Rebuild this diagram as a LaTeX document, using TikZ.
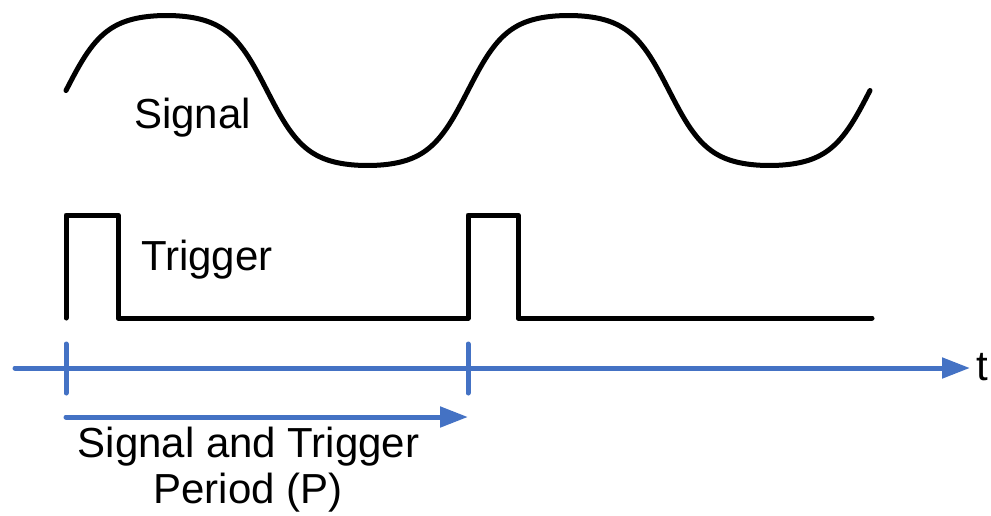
\documentclass[tikz,border=0pt]{standalone}
\usepackage{fontspec}
\setmainfont{Liberation Sans}
\usetikzlibrary{arrows.meta}
\definecolor{axisblue}{HTML}{4472C4}
\begin{document}
\begin{tikzpicture}[x=1pt,y=-1pt,
  wave/.style={line width=5pt,black,line cap=round,line join=round},
  axisline/.style={line width=5pt,axisblue,line cap=round},
  axisarrow/.style={axisline,-{Triangle[length=28pt,width=20pt]}},
  lbl/.style={font=\fontsize{42}{46}\selectfont,inner sep=0pt}]
\useasboundingbox (0,0) rectangle (991,515);
% signal
\draw[wave] plot[domain=0:720,samples=300]
  ({66+\x*1.116667},{90.5-75*tanh(1.5*sin(\x))/0.905148});
% trigger
\coordinate (t0) at (66,318);
\coordinate (t1) at (66,215);
\coordinate (t2) at (118,215);
\coordinate (t3) at (118,318);
\coordinate (t4) at (468,318);
\coordinate (t5) at (468,215);
\coordinate (t6) at (518,215);
\coordinate (t7) at (518,318);
\coordinate (t8) at (872,318);
\draw[wave] (t0)--(t1)--(t2)--(t3)--(t4)--(t5)--(t6)--(t7)--(t8);
% axis
\coordinate (a0) at (15,368);
\coordinate (a1) at (970,368);
\draw[axisarrow] (a0) -- (a1);
\coordinate (k0) at (66,344);
\coordinate (k1) at (66,393);
\coordinate (k2) at (468,344);
\coordinate (k3) at (468,393);
\draw[axisline] (k0) -- (k1);
\draw[axisline] (k2) -- (k3);
% period arrow
\coordinate (p0) at (66,417);
\coordinate (p1) at (468,417);
\draw[axisarrow] (p0) -- (p1);
% labels
\node[lbl,anchor=base west] (tlab) at (976,380) {t};
\node[lbl,anchor=base west] (sig) at (134,128) {Signal};
\node[lbl,anchor=base west] (trig) at (141,270) {Trigger};
\node[lbl,anchor=base] (per1) at (248.5,457) {Signal and Trigger};
\node[lbl,anchor=base] (per2) at (248,503) {Period (P)};
\end{tikzpicture}
\end{document}
